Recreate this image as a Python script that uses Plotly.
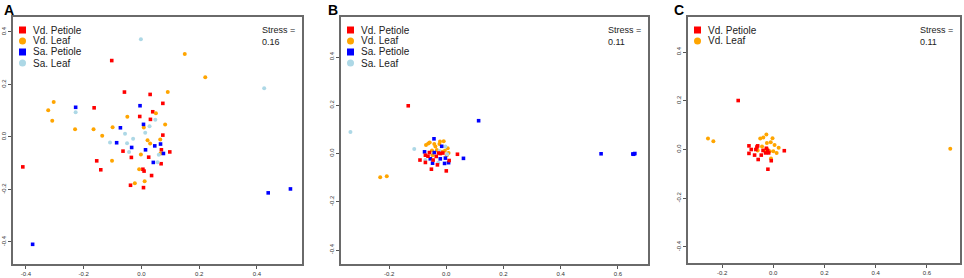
import plotly.graph_objects as go

W, H = 964, 278

# ---------------- Data ----------------
# Panel A
a_vd_pet_x = [-0.103, -0.059, 0.030, 0.074, -0.164, 0.039, -0.006, 0.031, 0.074, 0.069, -0.064, 0.098,
              -0.035, 0.025, -0.155, 0.068, -0.411, -0.141, 0.005, 0.009, 0.035, -0.038, 0.007]
a_vd_pet_y = [0.291, 0.171, 0.162, 0.128, 0.111, 0.096, 0.078, 0.067, 0.007, -0.049, -0.054, -0.057,
              -0.078, -0.077, -0.091, -0.102, -0.114, -0.125, -0.123, -0.130, -0.147, -0.184, -0.193]
a_vd_leaf_x = [0.150, 0.221, 0.091, -0.304, -0.323, 0.050, -0.049, -0.309, 0.008, 0.082, -0.100, -0.230,
               -0.166, -0.136, 0.065, 0.021, 0.030, 0.066, -0.002, -0.102, -0.008, 0.011, -0.023]
a_vd_leaf_y = [0.316, 0.227, 0.171, 0.133, 0.102, 0.090, 0.077, 0.062, 0.036, 0.047, 0.037, 0.029,
               0.029, 0.005, -0.010, -0.013, -0.025, -0.063, -0.067, -0.091, -0.123, -0.169, -0.176]
a_sa_pet_x = [-0.228, -0.005, 0.007, -0.073, -0.086, 0.066, -0.034, 0.046, 0.014, 0.076, 0.041,
              0.439, 0.516, -0.377]
a_sa_pet_y = [0.113, 0.119, 0.048, 0.035, -0.022, -0.027, -0.040, -0.034, -0.049, -0.063, -0.097,
              -0.213, -0.198, -0.409]
a_sa_leaf_x = [-0.002, 0.425, -0.228, 0.048, 0.028, 0.013, -0.057, -0.029, -0.109, -0.050, -0.043,
               0.060, 0.056]
a_sa_leaf_y = [0.372, 0.186, 0.094, 0.066, 0.041, 0.016, 0.012, -0.007, -0.021, -0.024, -0.057,
               -0.068, -0.096]

# Panel B
b_vd_pet_x = [-0.133, 0.039, -0.092, -0.073, -0.064, -0.073, -0.035, -0.031, -0.052, 0.000, 0.010,
              -0.059, -0.027, -0.021, -0.012, -0.046]
b_vd_pet_y = [0.198, -0.003, -0.027, -0.007, -0.011, -0.037, -0.012, -0.047, -0.065, -0.072, -0.029,
              0.004, 0.002, 0.000, 0.002, -0.027]
b_vd_leaf_x = [-0.231, -0.208, -0.071, -0.063, -0.058, -0.042, -0.038, -0.022, -0.009, -0.024, 0.005,
               -0.005, -0.015, -0.050, -0.033, -0.048, 0.008, 0.002, -0.019]
b_vd_leaf_y = [-0.098, -0.094, 0.035, 0.042, 0.046, 0.039, 0.029, 0.050, 0.051, 0.039, 0.022,
               0.011, 0.007, 0.013, 0.015, -0.007, 0.002, -0.007, 0.002]
b_sa_pet_x = [0.113, 0.541, 0.655, 0.659, 0.652, 0.060, -0.043, -0.016, -0.076, -0.056, -0.048,
              -0.006, 0.008, -0.003, -0.021, -0.042]
b_sa_pet_y = [0.136, -0.001, -0.003, 0.000, -0.002, -0.020, 0.061, 0.030, 0.007, -0.022, -0.040,
              -0.041, -0.038, -0.019, -0.022, 0.004]
b_sa_leaf_x = [-0.335, -0.112, -0.003, -0.073, -0.028, -0.024, 0.003]
b_sa_leaf_y = [0.089, 0.019, 0.029, -0.027, -0.038, 0.010, -0.003]

# Panel C
c_vd_pet_x = [-0.137, -0.095, -0.061, -0.064, -0.086, -0.068, -0.027, -0.040, -0.022, -0.095, -0.073,
              -0.047, -0.059, -0.030, -0.018, -0.008, -0.021, 0.043]
c_vd_pet_y = [0.201, 0.015, 0.015, 0.010, 0.000, 0.000, 0.005, -0.004, -0.004, -0.016, -0.023,
              -0.023, -0.041, -0.014, -0.014, -0.046, -0.081, -0.005]
c_vd_leaf_x = [-0.255, -0.234, 0.691, -0.027, -0.051, -0.039, -0.003, -0.025, -0.010, -0.044, 0.005,
               0.021, -0.061, -0.025, -0.014, 0.000, 0.013, -0.009, -0.036]
c_vd_leaf_y = [0.045, 0.034, 0.003, 0.062, 0.045, 0.049, 0.046, 0.027, 0.030, 0.012, 0.018,
               0.007, -0.004, 0.003, -0.007, -0.007, -0.014, -0.037, -0.004]

tick_x = [-0.4, -0.2, 0.0, 0.2, 0.4, 0.6]
tick_x_txt = ["-0.4", "-0.2", "0.0", "0.2", "0.4", "0.6"]
tick_y = [-0.4, -0.2, 0.0, 0.2, 0.4]
tick_y_txt = ["-0.4", "-0.2", "0.0", "0.2", "0.4"]

legend_names = ["Vd. Petiole", "Vd. Leaf", "Sa. Petiole", "Sa. Leaf"]
colors = ["#FF0000", "#FFA500", "#0000FF", "#ADD8E6"]
shapes_kind = ["square", "circle", "square", "circle"]
stress = ["0.16", "0.11", "0.11"]
panel_labels = ["A", "B", "C"]

# ---------------- Layout geometry (pixels) ----------------
boxes = [  # left, right, top, bottom
    (13, 302, 17, 264),
    (341, 648, 17, 264),
    (688, 960, 17, 263),
]
ranges = [
    ([-0.445, 0.556], [-0.484, 0.457]),
    ([-0.368, 0.705], [-0.458, 0.566]),
    ([-0.333, 0.729], [-0.466, 0.544]),
]

def px(x):
    return x / W

def py(y):
    return 1 - y / H

fig = go.Figure()

panels = [
    [(a_vd_pet_x, a_vd_pet_y, 0), (a_vd_leaf_x, a_vd_leaf_y, 1),
     (a_sa_pet_x, a_sa_pet_y, 2), (a_sa_leaf_x, a_sa_leaf_y, 3)],
    [(b_vd_leaf_x, b_vd_leaf_y, 1), (b_sa_leaf_x, b_sa_leaf_y, 3),
     (b_sa_pet_x, b_sa_pet_y, 2), (b_vd_pet_x, b_vd_pet_y, 0)],
    [(c_vd_leaf_x, c_vd_leaf_y, 1), (c_vd_pet_x, c_vd_pet_y, 0)],
]
n_legend = [4, 4, 2]

shapes = []
annotations = []
for i, (series, box, (xr, yr)) in enumerate(zip(panels, boxes, ranges)):
    sfx = "" if i == 0 else str(i + 1)
    for xs, ys, k in series:
        fig.add_trace(go.Scatter(
            x=xs, y=ys, mode="markers", name=legend_names[k], showlegend=False,
            xaxis="x" + sfx, yaxis="y" + sfx, cliponaxis=False,
            marker=dict(color=colors[k], size=3.6 if k % 2 == 0 else 4,
                        symbol="square" if k % 2 == 0 else "circle",
                        line=dict(width=0)),
        ))
    l, r, t, b = box
    axis_common = dict(showgrid=False, zeroline=False, showline=True, mirror=True,
                       linecolor="#6a6a6a", linewidth=1.5, ticks="outside", ticklen=3,
                       tickwidth=1, tickcolor="#555", automargin=False,
                       tickfont=dict(family="Liberation Sans, Arial", size=6, color="#333"))
    fig.layout["xaxis" + sfx] = dict(domain=[px(l), px(r)], range=xr, anchor="y" + sfx,
                                     tickvals=tick_x, ticktext=tick_x_txt, tickangle=0,
                                     **axis_common)
    fig.layout["yaxis" + sfx] = dict(domain=[py(b), py(t)], range=yr, anchor="x" + sfx,
                                     tickvals=tick_y, ticktext=tick_y_txt, tickangle=-90,
                                     **axis_common)
    # legend
    for j in range(n_legend[i]):
        cy = 30 + j * 11
        cx = l + 9.5
        s = 3.5
        shapes.append(dict(type="rect" if shapes_kind[j] == "square" else "circle",
                           xref="paper", yref="paper",
                           x0=px(cx - s), x1=px(cx + s), y0=py(cy + s), y1=py(cy - s),
                           fillcolor=colors[j], line=dict(width=0)))
        annotations.append(dict(text=legend_names[j], xref="paper", yref="paper",
                                x=px(l + 18), y=py(cy), xanchor="left", yanchor="middle",
                                showarrow=False,
                                font=dict(family="Liberation Sans, Arial", size=10, color="#222")))
    # stress
    annotations.append(dict(text="Stress =<br>" + stress[i], xref="paper", yref="paper",
                            x=px(r - 42), y=py(23), xanchor="left", yanchor="top", align="left",
                            showarrow=False,
                            font=dict(family="Liberation Sans, Arial", size=9, color="#222")))
    # panel label
    lab_x = [2, 326, 672][i]
    annotations.append(dict(text="<b>" + panel_labels[i] + "</b>", xref="paper", yref="paper",
                            x=px(lab_x), y=py(0), xanchor="left", yanchor="top",
                            showarrow=False,
                            font=dict(family="Liberation Sans, Arial", size=14, color="#000")))

fig.update_layout(width=W, height=H, margin=dict(l=0, r=0, t=0, b=0, autoexpand=False),
                  paper_bgcolor="white", plot_bgcolor="white",
                  shapes=shapes, annotations=annotations, showlegend=False)

fig.write_html("out.html", config={"displayModeBar": False},
               post_script="document.body.style.margin='0';document.body.style.overflow='hidden';")
